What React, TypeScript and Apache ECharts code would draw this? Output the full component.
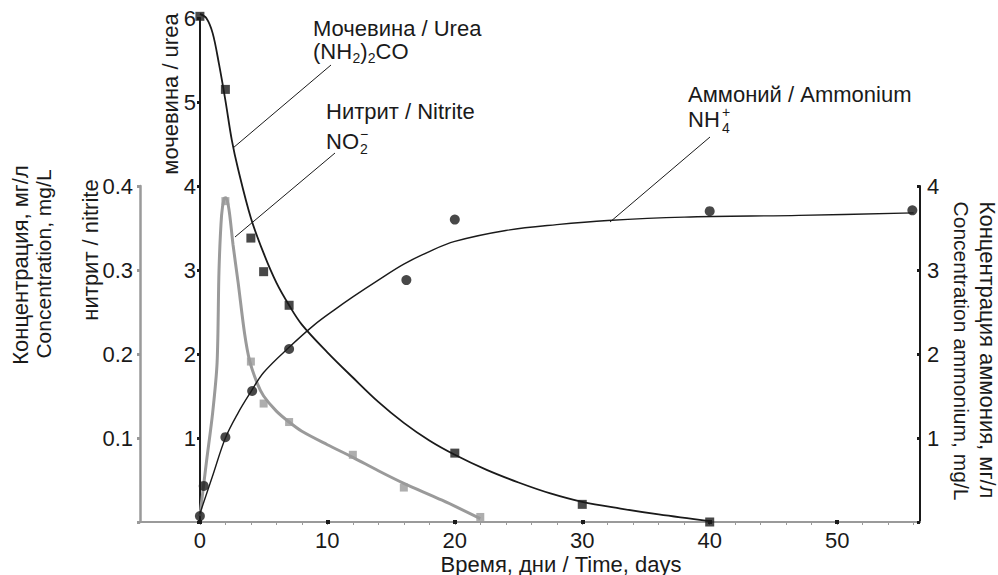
import React, { useEffect, useRef } from "react";
import * as echarts from "echarts";

// Measured points (days, concentration)
const ureaDays = [0, 2, 4, 5, 7, 20, 30, 40];
const ureaValues = [6.02, 5.15, 3.38, 2.98, 2.58, 0.82, 0.21, 0.0];
const ureaFitDays = [0, 0.5, 1, 1.5, 2, 2.5, 3, 4, 5, 6, 7, 8, 10, 12, 14, 16, 18, 20, 22.5, 25, 27.5, 30, 33, 36, 40];
const ureaFitValues = [6.05, 6.0, 5.82, 5.45, 5.02, 4.55, 4.2, 3.62, 3.2, 2.85, 2.58, 2.35, 2.02, 1.72, 1.43, 1.18, 0.97, 0.8, 0.62, 0.47, 0.34, 0.24, 0.16, 0.09, 0.01];

const nitriteDays = [2, 4, 5, 7, 12, 16, 22];
const nitriteValues = [0.382, 0.191, 0.141, 0.119, 0.08, 0.041, 0.006];
const nitriteFitDays = [0, 0.5, 1, 1.35, 1.5, 1.7, 1.9, 2.05, 2.3, 2.6, 3, 3.5, 3.9, 4.5, 5, 6, 7, 8, 10, 12, 14, 16, 19, 22];
const nitriteFitValues = [0.007, 0.07, 0.13, 0.19, 0.3, 0.365, 0.385, 0.386, 0.37, 0.33, 0.285, 0.225, 0.192, 0.165, 0.15, 0.132, 0.119, 0.108, 0.092, 0.077, 0.061, 0.046, 0.026, 0.004];

const ammoniumDays = [0, 0.3, 2, 4.1, 7, 16.2, 20, 40, 55.9];
const ammoniumValues = [0.07, 0.43, 1.01, 1.56, 2.06, 2.88, 3.6, 3.7, 3.71];
const ammoniumFitDays = [0, 1, 2, 3, 4, 5, 7, 9, 10.5, 12, 14, 16, 18, 20, 24, 28, 32, 38, 47, 56];
const ammoniumFitValues = [0.1, 0.55, 1.0, 1.3, 1.55, 1.78, 2.08, 2.35, 2.52, 2.68, 2.88, 3.07, 3.22, 3.34, 3.47, 3.54, 3.59, 3.63, 3.65, 3.68];

// Axis ticks
const xMajorTicks = [0, 10, 20, 30, 40, 50];
const xMinorTicks = [0, 2, 4, 6, 8, 10, 12, 14, 16, 18, 20, 22, 24, 26, 28, 30, 32, 34, 36, 38, 40, 42, 44, 46, 48, 50, 52, 54, 56];

const FONT = "'Liberation Sans', Arial, Helvetica, sans-serif";
const INK = "#1a1a1a";
const GRAY = "#9a9a9a";

const zip = (a: number[], b: number[]) => a.map((v, i) => [v, b[i]]);

export default function App() {
  const ref = useRef<HTMLDivElement>(null);
  useEffect(() => {
    if (!ref.current) return;
    const chart = echarts.init(ref.current, null, { renderer: "svg" });
    const hideZero = (v: number) => (v === 0 ? "" : String(v));
    const txt = (text: string, x: number, y: number, size = 22, extra: any = {}) => ({
      type: "text",
      x,
      y,
      rotation: extra.rotation || 0,
      z: 100,
      style: {
        text,
        fontSize: size,
        fontFamily: FONT,
        fill: INK,
        lineHeight: extra.lineHeight,
        align: extra.align || "left",
        verticalAlign: "middle",
      },
    });
    const leader = (x1: number, y1: number, x2: number, y2: number) => ({
      type: "line",
      z: 100,
      shape: { x1, y1, x2, y2 },
      style: { stroke: INK, lineWidth: 1 },
    });
    const small = { lineHeight: 12 };
    const option: any = {
      animation: false,
      textStyle: { fontFamily: FONT },
      grid: [
        { left: 140, right: 78, top: 18, bottom: 53 },
        { left: 140, right: 78, top: 186, bottom: 53 },
      ],
      xAxis: [
        {
          type: "value",
          gridIndex: 0,
          position: "bottom",
          min: -4.7,
          max: 56.5,
          axisLine: { show: true, onZero: false, lineStyle: { color: GRAY, width: 2 } },
          axisTick: { show: true, customValues: xMinorTicks, length: 3, lineStyle: { color: GRAY, width: 1 } },
          axisLabel: { show: false },
          splitLine: { show: false },
        },
        {
          type: "value",
          gridIndex: 0,
          position: "bottom",
          offset: -2,
          min: -4.7,
          max: 56.5,
          axisLine: { show: false, onZero: false },
          axisTick: { show: true, customValues: xMajorTicks, length: 4, lineStyle: { color: INK, width: 4 } },
          axisLabel: {
            show: true,
            customValues: xMajorTicks,
            fontSize: 22,
            lineHeight: 22,
            color: INK,
            margin: 9,
            fontFamily: FONT,
          },
          splitLine: { show: false },
        },
        {
          type: "value",
          gridIndex: 1,
          min: -4.7,
          max: 56.5,
          show: false,
        },
      ],
      yAxis: [
        {
          type: "value",
          gridIndex: 0,
          position: "left",
          offset: -60,
          min: 0,
          max: 6,
          interval: 1,
          axisLine: { show: true, onZero: false, lineStyle: { color: INK, width: 2 } },
          axisTick: { show: true, length: 3, lineStyle: { color: INK, width: 3 } },
          axisLabel: { fontSize: 22, color: INK, margin: 4, formatter: hideZero, fontFamily: FONT },
          splitLine: { show: false },
        },
        {
          type: "value",
          gridIndex: 1,
          position: "left",
          min: 0,
          max: 0.4,
          interval: 0.1,
          axisLine: { show: true, onZero: false, lineStyle: { color: GRAY, width: 2.5 } },
          axisTick: { show: true, length: 3, lineStyle: { color: GRAY, width: 3 } },
          axisLabel: {
            fontSize: 22,
            color: INK,
            margin: 7,
            fontFamily: FONT,
            formatter: (v: number) => (v === 0 ? "" : v.toFixed(1)),
          },
          splitLine: { show: false },
        },
        {
          type: "value",
          gridIndex: 1,
          position: "right",
          min: 0,
          max: 4,
          interval: 1,
          axisLine: { show: true, onZero: false, lineStyle: { color: INK, width: 2 } },
          axisTick: { show: true, inside: true, length: 3, lineStyle: { color: INK, width: 3 } },
          axisLabel: { fontSize: 22, color: INK, margin: 7, formatter: hideZero, fontFamily: FONT },
          splitLine: { show: false },
        },
      ],
      series: [
        {
          name: "nitrite fit",
          type: "line",
          xAxisIndex: 2,
          yAxisIndex: 1,
          data: zip(nitriteFitDays, nitriteFitValues),
          smooth: 0.3,
          showSymbol: false,
          clip: false,
          lineStyle: { color: GRAY, width: 3 },
          z: 2,
        },
        {
          name: "nitrite",
          type: "scatter",
          xAxisIndex: 2,
          yAxisIndex: 1,
          data: zip(nitriteDays, nitriteValues),
          symbol: "rect",
          symbolSize: 8,
          clip: false,
          itemStyle: { color: GRAY },
          z: 3,
        },
        {
          name: "ammonium fit",
          type: "line",
          xAxisIndex: 2,
          yAxisIndex: 2,
          data: zip(ammoniumFitDays, ammoniumFitValues),
          smooth: 0.35,
          showSymbol: false,
          clip: false,
          lineStyle: { color: INK, width: 1.4 },
          z: 4,
        },
        {
          name: "ammonium",
          type: "scatter",
          xAxisIndex: 2,
          yAxisIndex: 2,
          data: zip(ammoniumDays, ammoniumValues),
          symbol: "circle",
          symbolSize: 10,
          clip: false,
          itemStyle: { color: INK },
          z: 5,
        },
        {
          name: "urea fit",
          type: "line",
          xAxisIndex: 0,
          yAxisIndex: 0,
          data: zip(ureaFitDays, ureaFitValues),
          smooth: 0.35,
          showSymbol: false,
          clip: false,
          lineStyle: { color: INK, width: 1.8 },
          z: 4,
        },
        {
          name: "urea",
          type: "scatter",
          xAxisIndex: 0,
          yAxisIndex: 0,
          data: zip(ureaDays, ureaValues),
          symbol: "rect",
          symbolSize: 9,
          clip: false,
          itemStyle: { color: INK },
          z: 5,
        },
      ],
      graphic: [
        txt("Мочевина / Urea", 313, 28),
        txt("(NH", 313, 51),
        txt("2", 352.5, 58, 14, small),
        txt(")", 360.3, 51),
        txt("2", 367.8, 58, 14, small),
        txt("CO", 375.6, 51),
        leader(331, 65, 233, 148),
        txt("Нитрит / Nitrite", 326, 111),
        txt("NO", 326, 141),
        txt("2", 360, 149, 14, small),
        txt("−", 360, 134, 14, small),
        leader(335, 153, 235, 237),
        txt("Аммоний / Ammonium", 688, 94),
        txt("NH", 688, 119, 22, { lineHeight: 20 }),
        txt("4", 722, 128, 14, small),
        txt("+", 722, 112, 14, small),
        leader(710, 137, 610, 222),
        txt("Концентрация, мг/л", 20, 265, 22, { rotation: Math.PI / 2, align: "center" }),
        txt("Concentration, mg/L", 43, 264, 21, { rotation: Math.PI / 2, align: "center" }),
        txt("нитрит / nitrite", 90, 250, 22, { rotation: Math.PI / 2, align: "center" }),
        txt("мочевина / urea", 170, 94, 22, { rotation: Math.PI / 2, align: "center" }),
        txt("Концентрация аммония, мг/л", 987, 350, 22, { rotation: -Math.PI / 2, align: "center" }),
        txt("Concentration ammonium, mg/L", 961, 351, 21, { rotation: -Math.PI / 2, align: "center" }),
        txt("Время, дни / Time, days", 561, 564, 22, { align: "center", lineHeight: 20 }),
      ],
    };
    chart.setOption(option);
    return () => chart.dispose();
  }, []);
  return (
    <div
      ref={ref}
      style={{ position: "absolute", left: 0, top: 0, width: 998, height: 575, background: "#fff" }}
    />
  );
}
